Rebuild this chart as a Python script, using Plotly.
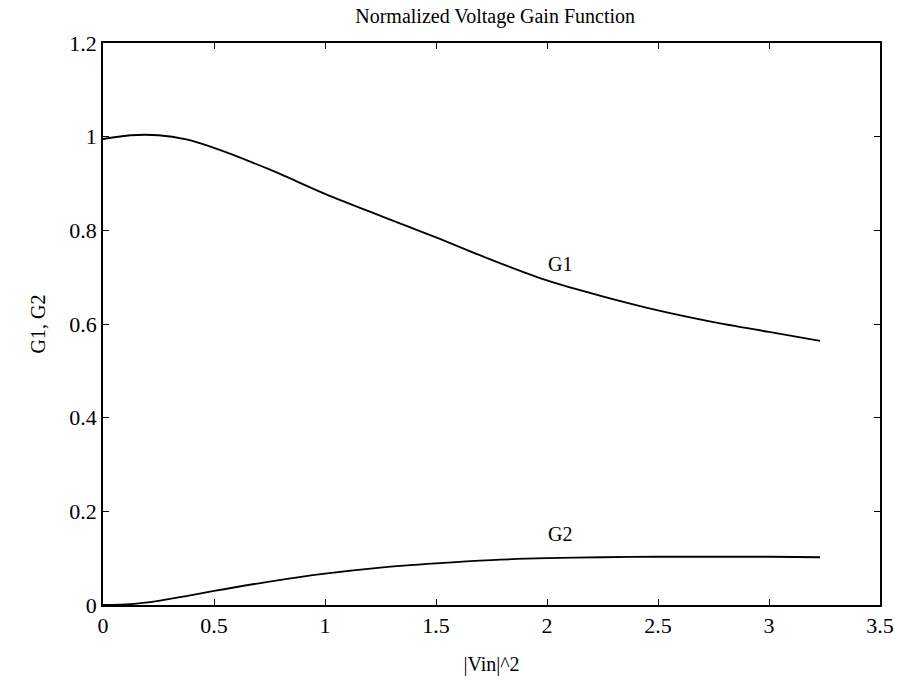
import plotly.graph_objects as go

x_g1 = [0, 0.125, 0.25, 0.375, 0.5, 0.75, 1.0, 1.25, 1.5, 1.75, 2.0, 2.25, 2.5, 2.75, 3.0, 3.23]
g1 = [0.995, 1.003, 1.003, 0.994, 0.976, 0.930, 0.878, 0.831, 0.785, 0.737, 0.693, 0.659, 0.629, 0.604, 0.583, 0.564]

x_g2 = [0, 0.125, 0.25, 0.375, 0.5, 0.75, 1.0, 1.25, 1.5, 1.75, 2.0, 2.25, 2.5, 2.75, 3.0, 3.23]
g2 = [0, 0.002, 0.009, 0.019, 0.030, 0.050, 0.067, 0.080, 0.089, 0.096, 0.100, 0.102, 0.103, 0.103, 0.103, 0.102]

x_ticks = [0, 0.5, 1, 1.5, 2, 2.5, 3, 3.5]
x_tick_text = ["0", "0.5", "1", "1.5", "2", "2.5", "3", "3.5"]
y_ticks = [0, 0.2, 0.4, 0.6, 0.8, 1.0, 1.2]
y_tick_text = ["0", "0.2", "0.4", "0.6", "0.8", "1", "1.2"]

labels = ["G1", "G2"]
label_x = [2.06, 2.06]
label_y = [0.728, 0.152]

font = "Liberation Serif, Times New Roman, serif"

fig = go.Figure()
fig.add_trace(go.Scatter(x=x_g1, y=g1, mode="lines", line=dict(color="black", width=1.8, shape="spline", smoothing=0.8), showlegend=False))
fig.add_trace(go.Scatter(x=x_g2, y=g2, mode="lines", line=dict(color="black", width=1.8, shape="spline", smoothing=0.8), showlegend=False))

for t, lx, ly in zip(labels, label_x, label_y):
    fig.add_annotation(x=lx, y=ly, text=t, showarrow=False, font=dict(family=font, size=20, color="black"))

fig.update_layout(
    width=906, height=684,
    margin=dict(l=103, r=18, t=43, b=75),
    paper_bgcolor="white", plot_bgcolor="white",
    font=dict(family=font, color="black"),
    title=dict(text="Normalized Voltage Gain Function", x=0.5465, xanchor="center", y=0.977, yanchor="middle",
               font=dict(family=font, size=20, color="black")),
)
fig.update_xaxes(range=[0, 3.5], tickvals=x_ticks, ticktext=x_tick_text, ticks="inside", ticklen=6,
                 tickcolor="black", showline=True, linecolor="black", linewidth=1.5, mirror="ticks",
                 showgrid=False, zeroline=False, tickfont=dict(family=font, size=22, color="black"),
                 title=dict(text="|Vin|^2", font=dict(family=font, size=20, color="black"), standoff=20))
fig.update_yaxes(range=[0, 1.2], tickvals=y_ticks, ticktext=y_tick_text, ticks="inside", ticklen=6,
                 tickcolor="black", showline=True, linecolor="black", linewidth=1.5, mirror="ticks",
                 showgrid=False, zeroline=False, tickfont=dict(family=font, size=22, color="black"),
                 title=dict(text="G1, G2", font=dict(family=font, size=20, color="black"), standoff=18))

fig.write_html("out.html")
